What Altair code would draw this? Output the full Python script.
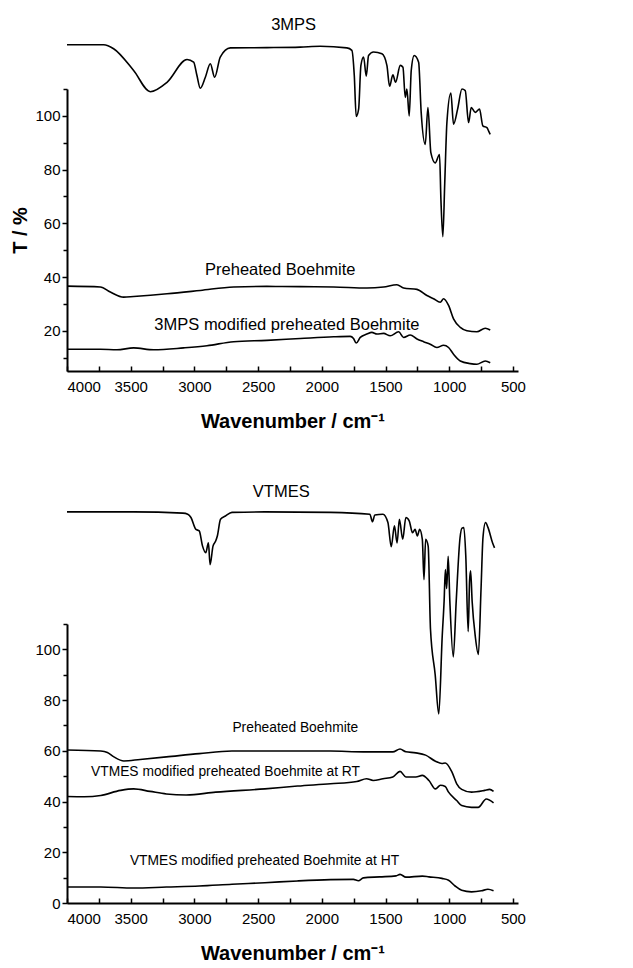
import altair as alt
import pandas as pd

# ---------------- Top panel (3MPS) ----------------
mps_wn = [4000,3712,3634,3477,3346,3215,3058,3006,2980,2954,2914,2875,2841,2797,2718,2431,2169,2012,1803,1764,
          1745,1730,1711,1693,1672,1651,1633,1594,1528,1489,1468,1442,1421,1384,1363,1345,1332,1314,1298,1275,
          1240,1220,1188,1167,1144,1110,1076,1065,1050,1035,1018,987,966,934,900,874,848,827,796,762,
          736,704,691,678]
mps_t = [126.5,126.5,125,116.9,109,112.5,121,120,115,110.3,114.4,119.4,114.4,121.9,125.3,125.4,125.6,125.9,125.3,124.4,
         115,99.8,102.5,118.8,121.9,114.8,122.5,123.8,123.1,118.8,111,115.3,112.5,118.8,118.1,106.9,110,100,116.9,122.5,
         120,101.3,89.4,103.1,86.3,82.5,85.6,68.8,55,75,97.5,108.5,96.9,102.5,110,109.4,97.5,103.1,101.3,102.5,
         96.3,95.6,94.4,93.1]

pb1_wn = [4000,3738,3660,3555,3477,3215,2954,2692,2431,2169,1907,1646,1515,1410,1358,1253,1175,1123,1070,1044,
          1005,966,913,861,783,717,678]
pb1_t = [36.6,36.3,34.4,32.5,32.75,33.75,35,36.3,36.5,36.4,36.3,35.9,36.3,37.1,35.9,35.4,33.1,31.9,30.6,31.9,
         29.4,24.4,21.25,20,19.6,20.9,20.25]

mpb_wn = [4000,3738,3608,3477,3320,3085,2901,2692,2431,2169,1907,1777,1751,1730,1698,1646,1607,1567,1515,1463,
          1397,1358,1306,1253,1201,1149,1097,1044,1005,966,913,835,783,717,678]
mpb_t = [13.1,13.1,12.9,13.6,12.9,13.6,14.4,15.9,16.4,17.1,17.75,17.9,17.1,15.4,17.5,18.75,19.4,18.75,19,18.1,
         19.6,17.5,18.4,16.9,15.9,15,13.75,14.6,13.75,11.25,8.75,7.75,7.5,8.75,8.1]

top_title = ["3MPS"]
top_title_x = [2221]
top_title_y = [134.0]
top_text = ["Preheated Boehmite", "3MPS modified preheated Boehmite"]
top_text_x = [2326, 2274]
top_text_y = [42.5, 22.1]

# ---------------- Bottom panel (VTMES) ----------------
vt_wn = [4000,3477,3091,3052,3027,2988,2962,2936,2911,2890,2877,2854,2833,2820,2795,2756,2705,2447,1932,1623,
         1602,1584,1520,1481,1455,1430,1409,1391,1365,1340,1314,1288,1268,1250,1232,1211,1198,1185,1165,1147,
         1110,1082,1055,1040,1030,1020,1008,995,968,945,915,900,885,870,851,840,832,820,795,771,
         750,735,715,695,660,644]
vt_t = [154.2,154.2,153.7,153.3,152,147.3,146.7,140.7,138.1,142,133.4,140.7,142.7,144.7,151.3,152.6,154,154.2,154,153.3,
        150.3,153,153.3,150,140.5,148.7,142,151.3,143.4,152,150.7,146,147.3,144.7,147.3,143.4,127.5,143.4,140.7,108,
        90,74.5,105,119,131.5,124,136.7,119,97,119,144,147.8,148,137,107,127,131,119,105,98,
        124,144,150,148,142,140]

pb2_wn = [4000,3735,3683,3632,3554,3426,3220,2962,2705,2447,2190,1932,1674,1443,1386,1340,1262,1185,1108,1057,
          1031,979,941,902,825,722,683,652]
pb2_t = [60.3,59.9,59.3,57.6,56,56.6,57.6,58.9,59.9,59.9,59.9,59.9,59.6,59.6,60.7,59.6,59.2,58.3,55.9,55,
         55.2,51.7,47,44.8,43.7,44.4,44.8,44]

rt_wn = [4000,3864,3735,3580,3477,3348,3220,3065,2833,2447,2190,1932,1726,1649,1597,1520,1443,1386,1340,1262,
         1211,1159,1108,1069,1031,1005,941,902,825,773,709,652]
rt_t = [42,41.9,42.4,44.4,45,44,43,42.6,43.7,45,46.1,47,47.9,49,48.3,49,49.7,51.9,49.7,49.7,
        50.3,48.3,45,46.4,45.9,43.7,40.4,38.4,37.7,37.7,41,39.5]

ht_wn = [4000,3735,3477,3220,2962,2705,2447,2190,1932,1752,1713,1674,1546,1417,1386,1340,1211,1159,1057,1005,
         954,902,825,747,696,652]
ht_t = [6.3,6.3,5.9,6.3,6.7,7.4,8,8.7,9.2,9.3,8.8,9.9,10.3,10.7,11.3,10.2,10.6,10.3,9.7,9,
        6.7,5,4.4,4.8,5.4,4.8]

bot_title = ["VTMES"]
bot_title_x = [2318]
bot_title_y = [162.0]
bot_text = ["Preheated Boehmite", "VTMES modified preheated Boehmite at RT",
            "VTMES modified preheated Boehmite at HT"]
bot_text_x = [2208, 2756, 2450]
bot_text_y = [68.9, 51.7, 16.6]

x_ticks = list(range(500, 4001, 250))


def series_df(pairs):
    rows = []
    for name, wn, t in pairs:
        for a, b in zip(wn, t):
            rows.append({"s": name, "wn": a, "T": b})
    return pd.DataFrame(rows)


top_df = series_df([("3MPS", mps_wn, mps_t), ("PB", pb1_wn, pb1_t), ("MPB", mpb_wn, mpb_t)])
bot_df = series_df([("VTMES", vt_wn, vt_t), ("PB", pb2_wn, pb2_t), ("RT", rt_wn, rt_t), ("HT", ht_wn, ht_t)])
top_tt = pd.DataFrame({"text": top_title, "wn": top_title_x, "T": top_title_y})
bot_tt = pd.DataFrame({"text": bot_title, "wn": bot_title_x, "T": bot_title_y})
top_lab = pd.DataFrame({"text": top_text, "wn": top_text_x, "T": top_text_y})
bot_lab = pd.DataFrame({"text": bot_text, "wn": bot_text_x, "T": bot_text_y})

FONT = "Liberation Sans"


def panel(df, tt, lab, lab_size, ydom, yvals, height, ytitle):
    xscale = alt.Scale(domain=[460, 4000], reverse=True, nice=False, zero=False)
    yscale = alt.Scale(domain=ydom, nice=False, zero=False)
    x = alt.X("wn:Q", scale=xscale,
              axis=alt.Axis(values=x_ticks, format="d", labelOverlap=False,
                            labelExpr="datum.value % 500 === 0 ? datum.label : ''",
                            tickSize={"expr": "-5"}, labelPadding=13,
                            title="Wavenumber / cm⁻¹", titlePadding=17))
    y = alt.Y("T:Q", scale=yscale,
              axis=alt.Axis(values=yvals, format="d", labelOverlap=False,
                            labelExpr="datum.value % 20 === 0 ? datum.label : ''",
                            tickSize=alt.condition("datum.value % 20 === 0", alt.value(5), alt.value(4)),
                            labelPadding=2, title=ytitle, titlePadding=4))
    lines = alt.Chart(df).mark_line(color="black", strokeWidth=1.6, interpolate="monotone").encode(
        x=x, y=y, detail="s:N", order="wn:Q")
    titles = alt.Chart(tt).mark_text(font=FONT, fontSize=16.5, color="black").encode(
        x=x, y=y, text="text:N")
    texts = alt.Chart(lab).mark_text(font=FONT, fontSize=lab_size, color="black").encode(
        x=x, y=y, text="text:N")
    return alt.layer(lines, titles, texts).properties(width=451, height=height)


top = panel(top_df, top_tt, top_lab, 16.5, [5, 110], list(range(10, 111, 10)), 282, "T / %")
bot = panel(bot_df, bot_tt, bot_lab, 13.8, [0, 110], list(range(0, 111, 10)), 279, "")

chart = alt.vconcat(top, bot, spacing=53).properties(
    padding={"left": 2, "top": 8, "right": 5, "bottom": 5}
).configure_view(strokeOpacity=0).configure_axis(
    grid=False, domainColor="black", domainWidth=2, tickColor="black", tickWidth=1.5,
    labelFont=FONT, labelFontSize=15, labelColor="black",
    titleFont=FONT, titleFontSize=20, titleFontWeight="bold", titleColor="black"
)

chart.save("out.html", embed_options={"renderer": "svg", "actions": False})
